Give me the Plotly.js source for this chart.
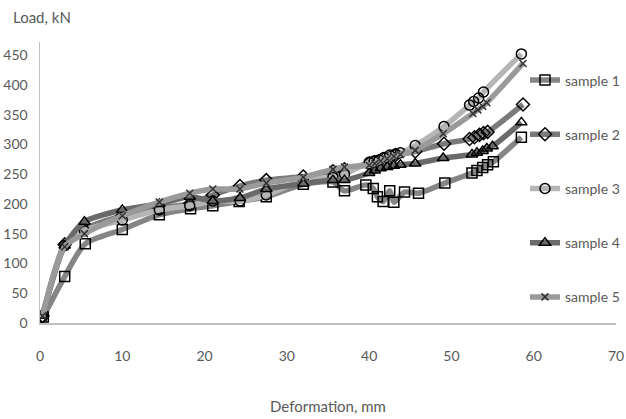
<!DOCTYPE html>
<html>
<head>
<meta charset="utf-8">
<script src="https://cdn.plot.ly/plotly-3.0.1.min.js"></script>
<style>html,body{margin:0;padding:0;background:#fff;}#chart{width:626px;height:419px;}</style>
</head>
<body>
<div id="chart"></div>
<script>
const seriesNames = ["sample 1", "sample 2", "sample 3", "sample 4", "sample 5"];

const x1 = [0.4, 3, 5.5, 10, 14.5, 18.3, 21, 24.2, 27.5, 32, 35.6, 37, 39.6, 40.5, 41, 41.7, 42.5, 43, 44.3, 46, 49.2, 52.5, 53.1, 53.8, 54.4, 55.1, 58.5];
const y1 = [10, 78, 133, 157, 182, 192, 197, 204, 212, 233, 237, 222, 232, 226, 212, 204, 222, 203, 220, 218, 235, 252, 256, 261, 266, 271, 312];

const x2 = [0.3, 3, 5.4, 10, 14.5, 18.2, 21, 24.3, 27.5, 32, 35.6, 37, 40, 40.6, 41.2, 41.8, 42.5, 43.2, 45.6, 49.1, 52.2, 52.8, 53.4, 53.9, 54.4, 58.7];
const y2 = [12, 132, 158, 180, 193, 200, 215, 230, 240, 246, 255, 258, 268, 270, 272, 275, 278, 282, 288, 301, 309, 312, 316, 319, 321, 367];

const x3 = [0.3, 3, 5.4, 10, 14.5, 18.2, 21, 24.3, 27.5, 32, 35.6, 37, 40, 40.6, 41.2, 41.8, 42.5, 43.2, 43.8, 45.6, 49.1, 52.2, 52.7, 53.3, 53.9, 58.5];
const y3 = [10, 130, 155, 173, 190, 197, 205, 205, 215, 240, 245, 250, 270, 272, 274, 278, 282, 284, 286, 298, 330, 366, 372, 378, 388, 452];

const x4 = [0.3, 3, 5.4, 10, 14.5, 18.2, 21, 24.3, 27.5, 32, 35.6, 37, 40, 40.7, 41.4, 42.2, 43, 43.8, 45.6, 49, 52.5, 53.1, 53.8, 54.3, 55, 58.5];
const y4 = [12, 130, 170, 190, 200, 212, 205, 210, 225, 234, 240, 240, 252, 256, 260, 262, 264, 266, 268, 277, 283, 286, 289, 293, 297, 337];

const x5 = [0.3, 3, 5.4, 10, 14.5, 18.2, 21, 24.3, 27.5, 32, 35.6, 37, 40, 40.7, 41.4, 42.2, 43, 43.8, 45.6, 49, 52.6, 53.2, 53.8, 54.3, 58.7];
const y5 = [12, 128, 150, 180, 203, 218, 225, 225, 235, 245, 258, 262, 265, 268, 272, 276, 280, 283, 290, 318, 352, 358, 364, 370, 436];

const xTicks = [0, 10, 20, 30, 40, 50, 60, 70];
const yTicks = [0, 50, 100, 150, 200, 250, 300, 350, 400, 450];

const FONT = "Lato, 'Open Sans', sans-serif";

const lineColors = ["#858585", "#7a7a7a", "#b5b5b5", "#6a6a6a", "#9a9a9a"];
const symbols = ["square-open", "diamond-open", "circle-open", "triangle-up-open", "x-thin"];
const xs = [x1, x2, x3, x4, x5];
const ys = [y1, y2, y3, y4, y5];

const traces = seriesNames.map((name, i) => ({
  type: "scatter",
  mode: "lines+markers",
  name: name,
  legendgroup: "g" + i,
  x: xs[i],
  y: ys[i],
  line: {color: lineColors[i], width: 5.5, shape: "spline", smoothing: 0.7},
  marker: i === 4
    ? {symbol: "x-thin", size: 7, color: "#333", line: {color: "#333", width: 1.5}}
    : {symbol: symbols[i], size: 10, color: "#000", line: {color: "#000", width: 1.5}}
}));

const layout = {
  width: 626, height: 419,
  margin: {l: 40, r: 10, t: 42, b: 96, autoexpand: false},
  paper_bgcolor: "#fff", plot_bgcolor: "#fff",
  font: {family: FONT, size: 14, color: "#595959"},
  showlegend: true,
  legend: {
    x: 0.842, y: 0.92, xanchor: "left", yanchor: "top",
    bgcolor: "rgba(0,0,0,0)",
    font: {family: FONT, size: 14, color: "#595959"},
    tracegroupgap: 33,
    itemwidth: 30
  },
  xaxis: {
    range: [0, 70], tickvals: xTicks, ticktext: xTicks.map(String),
    showgrid: false, zeroline: false,
    showline: true, linecolor: "#bfbfbf", linewidth: 1.5,
    ticks: "", ticklabelstandoff: 20, ticklabeloverflow: "allow",
    tickfont: {family: FONT, size: 14, color: "#595959"},
    title: {text: "Deformation, mm", font: {family: FONT, size: 15, color: "#595959"}, standoff: 38}
  },
  yaxis: {
    range: [0, 472], tickvals: yTicks, ticktext: yTicks.map(String),
    showgrid: false, zeroline: false,
    showline: true, linecolor: "#bfbfbf", linewidth: 1.5,
    ticks: "", ticklabelstandoff: 8,
    tickfont: {family: FONT, size: 14, color: "#595959"}
  },
  annotations: [{
    text: "Load, kN", xref: "paper", yref: "paper",
    x: -0.05, y: 1.05, xanchor: "left", yanchor: "bottom", showarrow: false,
    font: {family: FONT, size: 15, color: "#595959"}
  }]
};

Plotly.newPlot("chart", traces, layout, {displayModeBar: false, staticPlot: true});
</script>
</body>
</html>
